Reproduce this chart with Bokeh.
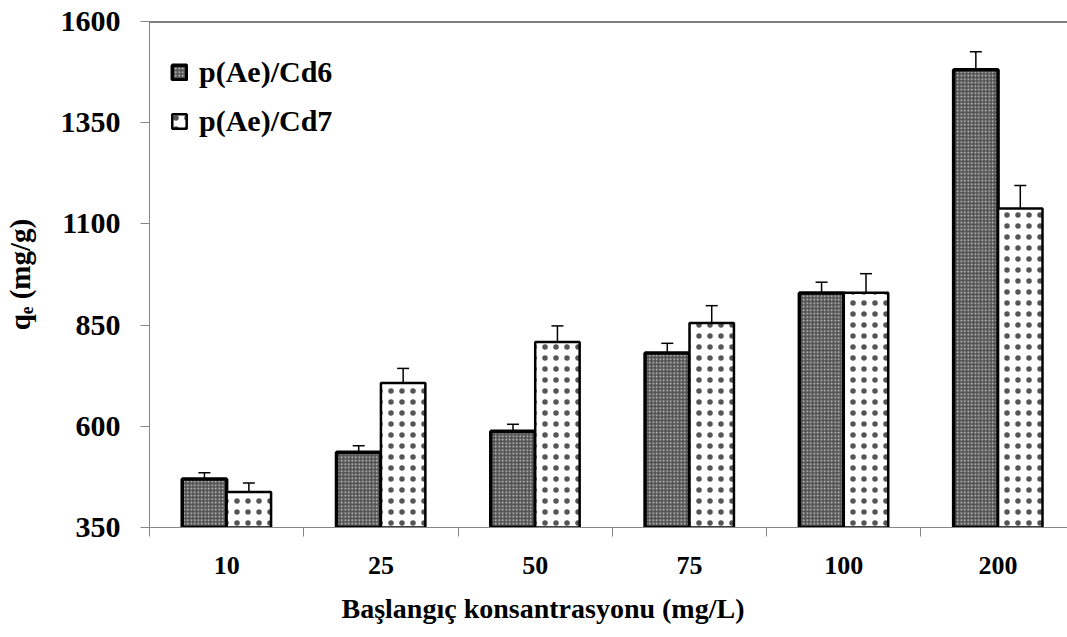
from bokeh.plotting import figure
from bokeh.models import (ColumnDataSource, Range1d, FixedTicker, Whisker, TeeHead,
                          Legend, LegendItem, Span, Title)
from bokeh.embed import file_html
from bokeh.resources import INLINE

categories = ["10", "25", "50", "75", "100", "200"]
cd6 = [470, 536, 588, 781, 929, 1481]
cd6_err = [15, 16, 17, 24, 27, 44]
cd7 = [438, 707, 808, 855, 930, 1138]
cd7_err = [22, 36, 40, 43, 47, 57]
y_ticks = [350, 600, 850, 1100, 1350, 1600]

FONT = "Liberation Serif"
BAR_W = 0.288
centers = [i + 0.5 for i in range(len(categories))]

src6 = ColumnDataSource(dict(
    x=[c - BAR_W / 2 for c in centers], top=cd6,
    upper=[v + e for v, e in zip(cd6, cd6_err)],
    lower=[v - e for v, e in zip(cd6, cd6_err)]))
src7 = ColumnDataSource(dict(
    x=[c + BAR_W / 2 for c in centers], top=cd7,
    upper=[v + e for v, e in zip(cd7, cd7_err)],
    lower=[v - e for v, e in zip(cd7, cd7_err)]))

p = figure(width=1067, height=637, output_backend="svg", toolbar_location=None,
           x_range=Range1d(0, 5.95), y_range=Range1d(350, 1600),
           min_border_left=148, min_border_right=0, min_border_top=21,
           min_border_bottom=110)
p.outline_line_color = None
p.grid.visible = False
p.background_fill_color = "white"
p.border_fill_color = "white"

r6 = p.vbar(x="x", top="top", bottom=350, width=BAR_W, source=src6,
            fill_color="#555555", hatch_pattern="dot", hatch_color="#d0d0d0",
            hatch_scale=3.5, hatch_weight=1, line_color="black", line_width=3.5)
r7 = p.vbar(x="x", top="top", bottom=350, width=BAR_W, source=src7,
            fill_color="white", hatch_pattern="dot", hatch_color="#555555",
            hatch_scale=11, hatch_weight=0.3, line_color="black", line_width=2.5)

for s in (src6, src7):
    w = Whisker(base="x", upper="upper", lower="lower", source=s,
                line_color="black", line_width=1.5,
                upper_head=TeeHead(size=12, line_width=1.5, line_color="black"),
                lower_head=TeeHead(size=12, line_width=1.5, line_color="black"))
    p.add_layout(w)

p.add_layout(Span(location=1600, dimension="width", line_color="black", line_width=2))

# y axis
ya = p.yaxis[0]
ya.ticker = FixedTicker(ticks=y_ticks)
ya.axis_line_color = "#868686"
ya.major_tick_line_color = "#868686"
ya.major_tick_out = 9
ya.major_tick_in = 0
ya.minor_tick_line_color = None
ya.major_label_text_font = FONT
ya.major_label_text_font_style = "bold"
ya.major_label_text_font_size = "30px"
ya.major_label_text_color = "black"
ya.major_label_standoff = 20
ya.axis_label = "qₑ (mg/g)"
ya.axis_label_text_font = FONT
ya.axis_label_text_font_style = "bold"
ya.axis_label_text_font_size = "29px"
ya.axis_label_text_color = "black"
ya.axis_label_standoff = 22

# x axis
xa = p.xaxis[0]
xa.ticker = FixedTicker(ticks=centers, minor_ticks=list(range(len(categories) + 1)))
xa.major_label_overrides = {c: lab for c, lab in zip(centers, categories)}
xa.axis_line_color = "#868686"
xa.major_tick_line_color = None
xa.major_tick_out = 0
xa.major_tick_in = 0
xa.minor_tick_line_color = "#868686"
xa.minor_tick_out = 9
xa.minor_tick_in = 0
xa.major_label_text_font = FONT
xa.major_label_text_font_style = "bold"
xa.major_label_text_font_size = "26px"
xa.major_label_text_color = "black"
xa.major_label_standoff = 20

p.add_layout(Title(text="Başlangıç konsantrasyonu (mg/L)", align="left", offset=192,
                   text_font=FONT, text_font_style="bold", text_font_size="28px",
                   text_color="black", standoff=28), "below")

legend = Legend(items=[LegendItem(label="p(Ae)/Cd6", renderers=[r6]),
                       LegendItem(label="p(Ae)/Cd7", renderers=[r7])],
                location=(21, 389), orientation="vertical",
                label_text_font=FONT, label_text_font_style="bold",
                label_text_font_size="30px", label_text_color="black",
                glyph_width=18, glyph_height=18, label_height=30,
                label_standoff=11, spacing=15, padding=10,
                border_line_color=None, background_fill_alpha=0)
p.add_layout(legend, "center")

open("out.html", "w").write(file_html(p, INLINE))
